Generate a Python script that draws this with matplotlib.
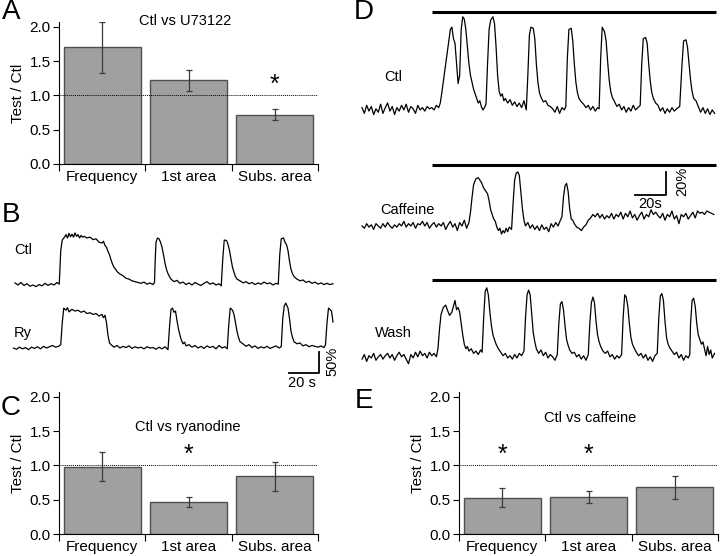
import numpy as np
import matplotlib
matplotlib.use('Agg')
import matplotlib.pyplot as plt

plt.rcParams['font.family'] = ['Liberation Sans', 'DejaVu Sans']

# Bar charts: ratio test / control, mean and error
CATEGORIES = ['Frequency', '1st area', 'Subs. area']

A_MEAN = [1.70, 1.22, 0.72]
A_ERR = [0.37, 0.155, 0.075]
A_STARS = [2]

C_MEAN = [0.98, 0.47, 0.84]
C_ERR = [0.21, 0.07, 0.215]
C_STARS = [1]

E_MEAN = [0.53, 0.54, 0.68]
E_ERR = [0.14, 0.085, 0.17]
E_STARS = [0, 1]

# Calcium traces, (time [s], dF/F [%])
B_CTL = [
    (0, 3), (2, -2), (4, 4), (6, -3), (8, 1), (10, -5), (12, -2), (14, -6), (16, -1), (18, -4),
    (20, 2), (22, -3), (24, 1), (26, -2), (28, 4), (29.5, 0),
    (30.5, 80), (31.5, 105), (33, 112), (34, 118), (35, 110), (36, 121), (37, 113), (38, 119),
    (39, 112), (40, 122), (41, 114), (42, 118), (43, 110), (44, 116), (45, 112), (46, 114),
    (48, 110), (50, 112), (52, 106), (54, 108), (56, 100), (58, 98), (59, 102), (60, 92), (61, 88),
    (62, 78), (63, 70), (64, 58), (65, 48), (66, 40), (67, 36), (68, 30), (70, 24), (72, 20),
    (74, 14), (76, 12), (78, 8), (80, 6), (82, 4), (84, 2), (86, 5), (88, 0), (90, 3), (92, -1), (93, 4),
    (93.5, 60), (94, 100), (95, 110), (96, 108), (97, 100), (98, 88), (99, 70), (100, 50), (101, 35),
    (102, 25), (103, 18), (104, 12), (106, 6), (108, 9), (110, 2), (112, 5), (114, -1), (116, 3),
    (118, -2), (120, 4), (122, 0), (124, -3), (126, 2), (128, 6), (130, 0), (132, 3), (134, -2),
    (136, 1), (137.5, -4),
    (138.5, 60), (139.5, 105), (141, 104), (142, 95), (143, 80), (144, 60), (145, 40), (146, 28),
    (147, 18), (148, 12), (150, 8), (152, 3), (154, 6), (156, 1), (158, 4), (160, -1), (162, 3),
    (164, 0), (166, 5), (168, 1), (170, 3), (172, -2), (174, 2), (175.5, 0),
    (176.5, 70), (177.5, 108), (179, 110), (180, 100), (181, 94), (182, 80), (183, 55), (184, 35),
    (185, 25), (186, 18), (188, 12), (190, 8), (192, 10), (194, 4), (196, 7), (198, 2), (200, 5),
    (202, 0), (204, 3), (206, -1), (208, 2), (210, -1), (212, 1),
]

B_RY = [
    (-1, 0), (1, -3), (3, 2), (5, -2), (7, 1), (9, -4), (11, 2), (13, -1), (15, 3), (17, -2),
    (19, 4), (21, 0), (23, 3), (25, 6), (27, 2), (29, 4), (30.5, 8),
    (31.5, 60), (32.5, 95), (34, 90), (35, 96), (36, 86), (38, 92), (40, 88), (42, 90), (44, 85),
    (46, 88), (48, 82), (50, 84), (52, 80), (54, 82), (56, 76), (58, 80), (59, 72), (60, 78),
    (61, 60), (62, 30), (63, 12), (64, 8), (66, 2), (68, 6), (70, 0), (72, 4), (74, 1), (76, 5),
    (78, -1), (80, 3), (82, 0), (84, 2), (86, -2), (88, 3), (90, 0), (92, 1), (94, -3), (96, 2),
    (98, -2), (100, 3), (102, -4),
    (103, 50), (104, 92), (105, 95), (106, 85), (107, 88), (108, 65), (109, 45), (110, 30),
    (111, 18), (112, 10), (113, 14), (114, 5), (116, 8), (118, 2), (120, 6), (122, 0), (124, 4),
    (126, -1), (128, 5), (130, 1), (132, 4), (134, -2), (136, 6), (138, 0), (140, 3), (141.5, -2),
    (142.5, 55), (143.5, 95), (145, 90), (146, 80), (147, 60), (148, 40), (149, 25), (150, 15),
    (152, 10), (154, 4), (156, 8), (158, 1), (160, 5), (162, -1), (164, 3), (166, 0), (168, 4),
    (170, -1), (172, 2), (174, 5), (176, 0), (177.5, 3),
    (178.5, 70), (179.5, 100), (180.5, 107), (182, 95), (183, 70), (184, 40), (185, 25), (186, 15),
    (188, 10), (190, 12), (192, 5), (194, 8), (196, 3), (198, 6), (200, 4), (202, 2), (204, 5),
    (206, 1), (207, 8), (208, 60), (209, 95), (211, 88), (212, 62),
]

D_CTL = [
    (0, 2), (1.5, -3), (3, 4), (4.5, -1), (6, 3), (7.5, -4), (9, 1), (10.5, -2), (12, 5), (13.5, -3),
    (15, 2), (16.5, 6), (18, -1), (19.5, 3), (21, -4), (22.5, 2), (24, -1), (25.5, 4), (27, 0),
    (28.5, 5), (30, -2), (31.5, 3), (33, 1), (34.5, -3), (36, 4), (37.5, 0), (39, 2), (40.5, -1),
    (42, 3), (43.5, 1), (45, 2), (46.5, 0), (48, 4), (49.5, 2), (50.5, 6),
    (51.5, 15), (53, 30), (54.5, 45), (56, 60), (57, 70), (58, 72), (59, 62), (60, 58), (61, 40),
    (62, 23), (63, 30), (64, 70), (65, 81), (66, 79), (67, 70), (68, 55), (69, 40), (70, 30),
    (72, 18), (74, 10), (75, 6), (76, 8), (77, 3), (78, 0), (79, 2), (80, 5),
    (81, 40), (82, 70), (83, 78), (84.5, 81), (85.5, 75), (86.5, 55), (87.5, 30), (88.5, 16),
    (89.5, 12), (90.5, 14), (91.5, 8), (92.5, 10), (94, 6), (95.5, 9), (97, 4), (98.5, 7),
    (100, 3), (101.5, 6), (103, 2), (104.5, 8), (106, 0),
    (107, 30), (108, 65), (109, 72), (110.5, 71), (111.5, 62), (112.5, 40), (113.5, 24),
    (114.5, 15), (115.5, 11), (117, 7), (118.5, 8), (120, 4), (121.5, 3), (123, 1), (124.5, -2),
    (126, 3), (127.5, -3), (129, 2), (130.5, 0), (131.5, 3),
    (132.5, 45), (133.5, 70), (135, 71), (136, 60), (137, 40), (138, 24), (139, 15), (140, 10),
    (141.5, 7), (143, 5), (144.5, 2), (146, 4), (147.5, 0), (149, 3), (150.5, -1), (152, 2), (153, 1),
    (154, 45), (155, 72), (156.5, 68), (157.5, 60), (158.5, 42), (159.5, 26), (160.5, 16),
    (161.5, 11), (163, 7), (164.5, 3), (166, 5), (167.5, 0), (169, 3), (170.5, -2), (172, 2),
    (173.5, -1), (175, 4), (176.5, 0), (178, 2), (179.5, 4),
    (180.5, 40), (181.5, 62), (183, 63), (184, 58), (185, 40), (186, 25), (187, 15), (188, 10),
    (189.5, 6), (191, 4), (192.5, -1), (194, 2), (195.5, -3), (197, 1), (198.5, -2), (200, 2),
    (201.5, -1), (203, 1), (205, 3),
    (206.5, 40), (207.5, 60), (209, 61), (210, 55), (211, 40), (212, 26), (213, 16), (214, 10),
    (215.5, 8), (217, 3), (218.5, -2), (220, 2), (221.5, -3), (223, 1), (224.5, -4), (226, 0),
    (227.5, -3),
]

D_CAF = [
    (0, 0), (1.5, -2), (3, 2), (4.5, -1), (6, 1), (7.5, -3), (9, 2), (10.5, 0), (12, -2), (13.5, 2),
    (15, -1), (16.5, 3), (18, 0), (19.5, -2), (21, 1), (22.5, -1), (24, 2), (25.5, 0), (27, 4),
    (28.5, -1), (30, 2), (31.5, 0), (33, 3), (34.5, -2), (36, 2), (37.5, 1), (39, 4), (40.5, 0),
    (42, 3), (43.5, -2), (45, 1), (46.5, 3), (48, -1), (49.5, 2), (51, 0), (52.5, 3), (54, -3),
    (55.5, 1), (57, 4), (58.5, -1), (60, 2), (61.5, -4), (63, 3), (64.5, 0), (66, 5), (67.5, -2),
    (69, 3),
    (70, 12), (71, 25), (72, 36), (73.5, 41), (75, 42), (76, 40), (77, 38), (78.5, 33), (80, 30),
    (81, 28), (82, 22), (83, 14), (84, 10), (85, 6), (86, 4), (87, -1), (88, -4), (89, -2),
    (90, -7), (91, -4), (92, -6), (93, -2), (94, -5), (95, -1), (96.5, -3),
    (97.5, 20), (98.5, 40), (99.5, 46), (100.5, 47), (101.5, 44), (102.5, 30), (103.5, 15),
    (104.5, 5), (105.5, 0), (107, 3), (108.5, -2), (110, 1), (111.5, -3), (113, 0), (114.5, -4),
    (116, 1), (117.5, -3), (119, -1), (120.5, -5), (122, 2), (123.5, -1), (125, 3), (126.5, 0),
    (128, 5), (129, 8),
    (130, 25), (131, 35), (132, 37), (133, 30), (134, 15), (135, 6), (136, 5), (137, 2),
    (138.5, -1), (140, -2), (141.5, -4), (143, -1), (144.5, 1), (146, 5), (147.5, 7), (149, 10),
    (150.5, 8), (152, 11), (153.5, 7), (155, 10), (156.5, 6), (158, 9), (159.5, 7), (161, 11),
    (162.5, 6), (164, 10), (165.5, 8), (167, 12), (168.5, 6), (170, 11), (171.5, 8), (173, 13),
    (174.5, 7), (176, 10), (177.5, 5), (179, 9), (180.5, 12), (182, 6), (183.5, 10), (185, 8),
    (186.5, 14), (188, 10), (189.5, 12), (191, 9), (192.5, 7), (194, 11), (195.5, 5), (197, 10),
    (198.5, 8), (200, 13), (201.5, 6), (203, 9), (204.5, 2), (206, 10), (207.5, 8), (209, 11),
    (210.5, 6), (212, 9), (213.5, 12), (215, 7), (216.5, 13), (218, 11), (219.5, 12), (221, 10),
    (222.5, 13), (224, 12), (225.5, 11), (227, 10),
]

D_WASH = [
    (0, -1), (1.5, 3), (3, -3), (4.5, 2), (6, 0), (7.5, 4), (9, -2), (10.5, 1), (12, 3), (13.5, -1),
    (15, 2), (16.5, 4), (18, 0), (19.5, 3), (21, -2), (22.5, 2), (24, 5), (25.5, 1), (27, 3),
    (28.5, -1), (30, -5), (31.5, 3), (33, 0), (34.5, 5), (36, 1), (37.5, 6), (39, 2), (40.5, 4),
    (42, 0), (43.5, 5), (45, 2), (46.5, 4), (48, 1),
    (49, 8), (50, 25), (51, 38), (52.5, 44), (54, 46), (55, 42), (56.5, 37), (58, 40), (59, 45),
    (60, 50), (61, 42), (62, 44), (63, 40), (64, 30), (65, 20), (66, 12), (67, 8), (68, 10),
    (69, 6), (70.5, 8), (72, 4), (73.5, 6), (75, 3), (76.5, 7), (77.5, 5),
    (78.5, 35), (79.5, 58), (80.5, 61), (81.5, 55), (82.5, 40), (83.5, 28), (84.5, 20), (85.5, 16),
    (86.5, 12), (88, 8), (89.5, 5), (91, 2), (92.5, 4), (94, 0), (95.5, 2), (97, -1), (98.5, 3),
    (100, 0), (101.5, 4), (103, 2), (104.5, 6),
    (105.5, 35), (106.5, 55), (107.5, 59), (108.5, 55), (109.5, 38), (110.5, 22), (111.5, 14),
    (112.5, 8), (114, 4), (115.5, 7), (117, 2), (118.5, 5), (120, 0), (121.5, 3), (123, 1),
    (124.5, -2), (126, 3),
    (127, 30), (128, 47), (129, 49), (130, 42), (131, 28), (132, 16), (133, 11), (134, 7),
    (135.5, 4), (137, 5), (138.5, 1), (140, 3), (141.5, -1), (143, 2), (144.5, -2), (146, 3),
    (147, 30), (148, 48), (149, 53), (150, 48), (151, 32), (152, 20), (153, 14), (154, 10),
    (155.5, 6), (157, 4), (158.5, 6), (160, 1), (161.5, 3), (163, -1), (164.5, 2), (166, 0), (167.5, 3),
    (168.5, 35), (169.5, 55), (170.5, 53), (171.5, 45), (172.5, 30), (173.5, 18), (174.5, 12),
    (175.5, 9), (177, 5), (178.5, 2), (180, 4), (181.5, 0), (183, 3), (184.5, -2), (186, 1),
    (187.5, -3), (189, 2), (190.5, 4),
    (191.5, 35), (192.5, 54), (193.5, 56), (194.5, 50), (195.5, 32), (196.5, 18), (197.5, 12),
    (198.5, 9), (200, 6), (201.5, 3), (203, 5), (204.5, 0), (206, 3), (207.5, -2), (209, 2),
    (210.5, 0), (211.5, 3),
    (212, 30), (213, 50), (214, 52), (215, 45), (216, 30), (217, 20), (218, 16), (219, 12),
    (220, 14), (221, 8), (222, 2), (223, 10), (224, 3), (225, 7), (226, 0), (227.5, 4),
]

# drug application bar in D, seconds
DRUG_ON, DRUG_OFF = 45.2, 228.4

W, H = 720, 556
fig = plt.figure(figsize=(W / 100, H / 100), dpi=100)


def px_axes(x0, y0, x1, y1):
    # axes from pixel box (top-left origin)
    return fig.add_axes([x0 / W, 1 - y1 / H, (x1 - x0) / W, (y1 - y0) / H])


def ptext(x, y, s, **kw):
    fig.text(x / W, 1 - y / H, s, **kw)


def bar_panel(box, means, errs, stars, title, title_xy):
    ax = px_axes(*box)
    pos = np.arange(len(means)) + 0.5
    ax.bar(pos, means, width=0.89, color='#a0a0a0', edgecolor='#505050', linewidth=1.0, zorder=2)
    ax.errorbar(pos, means, yerr=errs, fmt='none', ecolor='#3a3a3a', elinewidth=0.9,
                capsize=2, capthick=0.9, zorder=3)
    ax.axhline(1.0, color='black', linestyle=(0, (1, 1)), linewidth=0.7, zorder=4)
    for i in stars:
        ax.text(pos[i], 1.15, '*', ha='center', va='center', fontsize=18)
    ax.set_xlim(0, 3)
    ax.set_ylim(0, 2.07)
    ax.set_yticks([0, 0.5, 1.0, 1.5, 2.0])
    ax.set_yticklabels(['0.0', '0.5', '1.0', '1.5', '2.0'])
    ax.set_xticks([0, 1, 2, 3])
    ax.set_xticklabels([])
    ax.set_xticks(pos, minor=True)
    ax.set_xticklabels(CATEGORIES, minor=True)
    ax.tick_params(axis='x', which='major', direction='out', length=5, width=0.8)
    ax.tick_params(axis='x', which='minor', length=0, pad=4, labelsize=11)
    ax.tick_params(axis='y', direction='out', length=4, width=0.8, labelsize=11, pad=2)
    for s in ['top', 'right']:
        ax.spines[s].set_visible(False)
    for s in ['left', 'bottom']:
        ax.spines[s].set_linewidth(0.8)
    ax.set_ylabel('Test / Ctl', fontsize=11, labelpad=3)
    ptext(title_xy[0], title_xy[1], title, ha='center', va='center', fontsize=10.5)
    return ax


bar_panel((59, 22, 318, 164), A_MEAN, A_ERR, A_STARS, 'Ctl vs U73122', (185, 21))
bar_panel((59, 392, 318, 534), C_MEAN, C_ERR, C_STARS, 'Ctl vs ryanodine', (188, 427))
bar_panel((459, 392, 718, 534), E_MEAN, E_ERR, E_STARS, 'Ctl vs caffeine', (590, 418))

# panel B: 1 s = 1.5 px, 1 % = 0.42 px
axB = px_axes(0, 195, 360, 395)
ry_base, ctl_base = 0.0, 152.0
t, v = zip(*B_CTL)
axB.plot(t, np.array(v) + ctl_base, color='black', linewidth=0.9)
t, v = zip(*B_RY)
axB.plot(t, np.array(v) + ry_base, color='black', linewidth=0.9)
sb_t, sb_y = 202.7, -59.5
axB.plot([sb_t - 20, sb_t, sb_t], [sb_y, sb_y, sb_y + 50], color='black', linewidth=1.3)
axB.set_xlim(-10, 230)
axB.set_ylim(-111.9, 364.3)
axB.axis('off')
ptext(23, 250, 'Ctl', ha='center', va='center', fontsize=10.5)
ptext(23, 333, 'Ry', ha='center', va='center', fontsize=10.5)
ptext(302, 383, '20 s', ha='center', va='center', fontsize=10.5)
ptext(332, 361, '50%', ha='center', va='center', fontsize=10.5, rotation=90)

# panel D: 1 s = 1.55 px, 1 % = 1.15 px
axD = px_axes(360, 0, 720, 375)
offsets = {'Ctl': 215.7, 'Caffeine': 114.8, 'Wash': 0.0}
bars_y = {'Ctl': 300.9, 'Caffeine': 167.8, 'Wash': 67.8}
for name, trace in [('Ctl', D_CTL), ('Caffeine', D_CAF), ('Wash', D_WASH)]:
    t, v = zip(*trace)
    axD.plot(t, np.array(v) + offsets[name], color='black', linewidth=0.9)
    axD.plot([DRUG_ON, DRUG_OFF], [bars_y[name]] * 2, color='black', linewidth=2.2,
             solid_capstyle='butt')
sb_t, sb_y = 196.1, 141.7
axD.plot([sb_t - 20, sb_t, sb_t], [sb_y, sb_y, sb_y + 20], color='black', linewidth=1.3)
axD.set_xlim(-1.3, 231)
axD.set_ylim(-14.8, 311.3)
axD.axis('off')
ptext(393, 77, 'Ctl', ha='center', va='center', fontsize=10.5)
ptext(407, 210, 'Caffeine', ha='center', va='center', fontsize=10.5)
ptext(393, 333, 'Wash', ha='center', va='center', fontsize=10.5)
ptext(650, 204, '20s', ha='center', va='center', fontsize=10.5)
ptext(682, 181, '20%', ha='center', va='center', fontsize=10.5, rotation=90)

# panel letters
for letter, x, y in [('A', 11, 12), ('B', 11, 215), ('C', 11, 408), ('D', 364, 12), ('E', 364, 401)]:
    ptext(x, y, letter, ha='center', va='center', fontsize=20)

fig.savefig('out.png', dpi=100)
